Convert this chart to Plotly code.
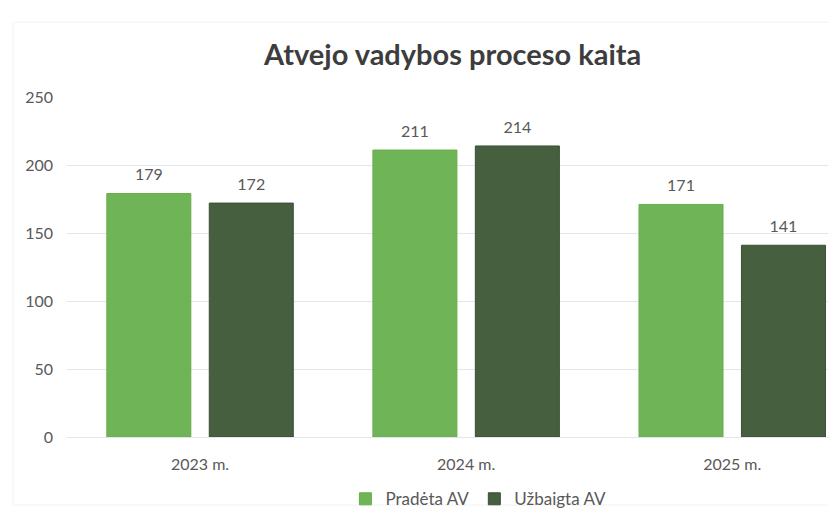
import plotly.graph_objects as go

years = ["2023 m.", "2024 m.", "2025 m."]
started = [179, 211, 171]
finished = [172, 214, 141]
series_names = ["Pradėta AV", "Užbaigta AV"]
y_ticks = [0, 50, 100, 150, 200, 250]

FONT = "Lato, 'Open Sans', sans-serif"
TEXT_GRAY = "#595959"
GRID = "#dfe7ee"
colors = ["#6fb456", "#465f3f"]
edges = ["#69ad4a", "#3a4f35"]

fig = go.Figure()
for name, vals, col, edge in zip(series_names, [started, finished], colors, edges):
    fig.add_trace(go.Bar(
        x=years,
        y=vals,
        name=name,
        offsetgroup=name,
        marker=dict(color=col, line=dict(color=edge, width=1)),
    ))
# value labels sit a little higher above the bars than plotly's default
for name, vals in zip(series_names, [started, finished]):
    fig.add_trace(go.Scatter(
        x=years,
        y=vals,
        offsetgroup=name,
        mode="markers+text",
        text=[str(v) for v in vals],
        textposition="top center",
        textfont=dict(size=16, color=TEXT_GRAY, family=FONT),
        marker=dict(size=13, opacity=0),
        showlegend=False,
        hoverinfo="skip",
        cliponaxis=False,
    ))

# faint chart border from the scanned original
fig.add_shape(type="rect", xref="paper", yref="paper",
              x0=-0.07, y0=-0.2, x1=1.2, y1=1.22,
              line=dict(color="#eef2f5", width=1), layer="below")

fig.update_layout(
    width=828,
    height=516,
    margin=dict(l=59, r=0, t=89, b=87),
    paper_bgcolor="white",
    plot_bgcolor="white",
    font=dict(family=FONT, color=TEXT_GRAY),
    title=dict(
        text="<b>Atvejo vadybos proceso kaita</b>",
        x=0.537, xanchor="center", y=0.91, yanchor="middle",
        font=dict(size=29, color="#3d3d3d", family=FONT),
    ),
    barmode="group",
    bargap=0.23,
    bargroupgap=0.18,
    scattermode="group",
    scattergap=0.23,
    xaxis=dict(
        range=[-0.5, 2.39],
        showgrid=False,
        showline=True,
        linecolor=GRID,
        linewidth=1,
        tickfont=dict(size=16, color=TEXT_GRAY),
        ticks="",
        ticklabelstandoff=13,
    ),
    yaxis=dict(
        range=[0, 250],
        tickvals=y_ticks,
        showgrid=True,
        gridcolor=GRID,
        gridwidth=1,
        zeroline=False,
        tickfont=dict(size=16, color=TEXT_GRAY),
        ticks="",
        ticklabelstandoff=13,
    ),
    legend=dict(
        orientation="h",
        x=0.535, xanchor="center",
        y=0.048, yref="container", yanchor="middle",
        font=dict(size=17, color=TEXT_GRAY),
        itemwidth=30,
        bgcolor="rgba(0,0,0,0)",
    ),
)

fig.write_html("out.html")
